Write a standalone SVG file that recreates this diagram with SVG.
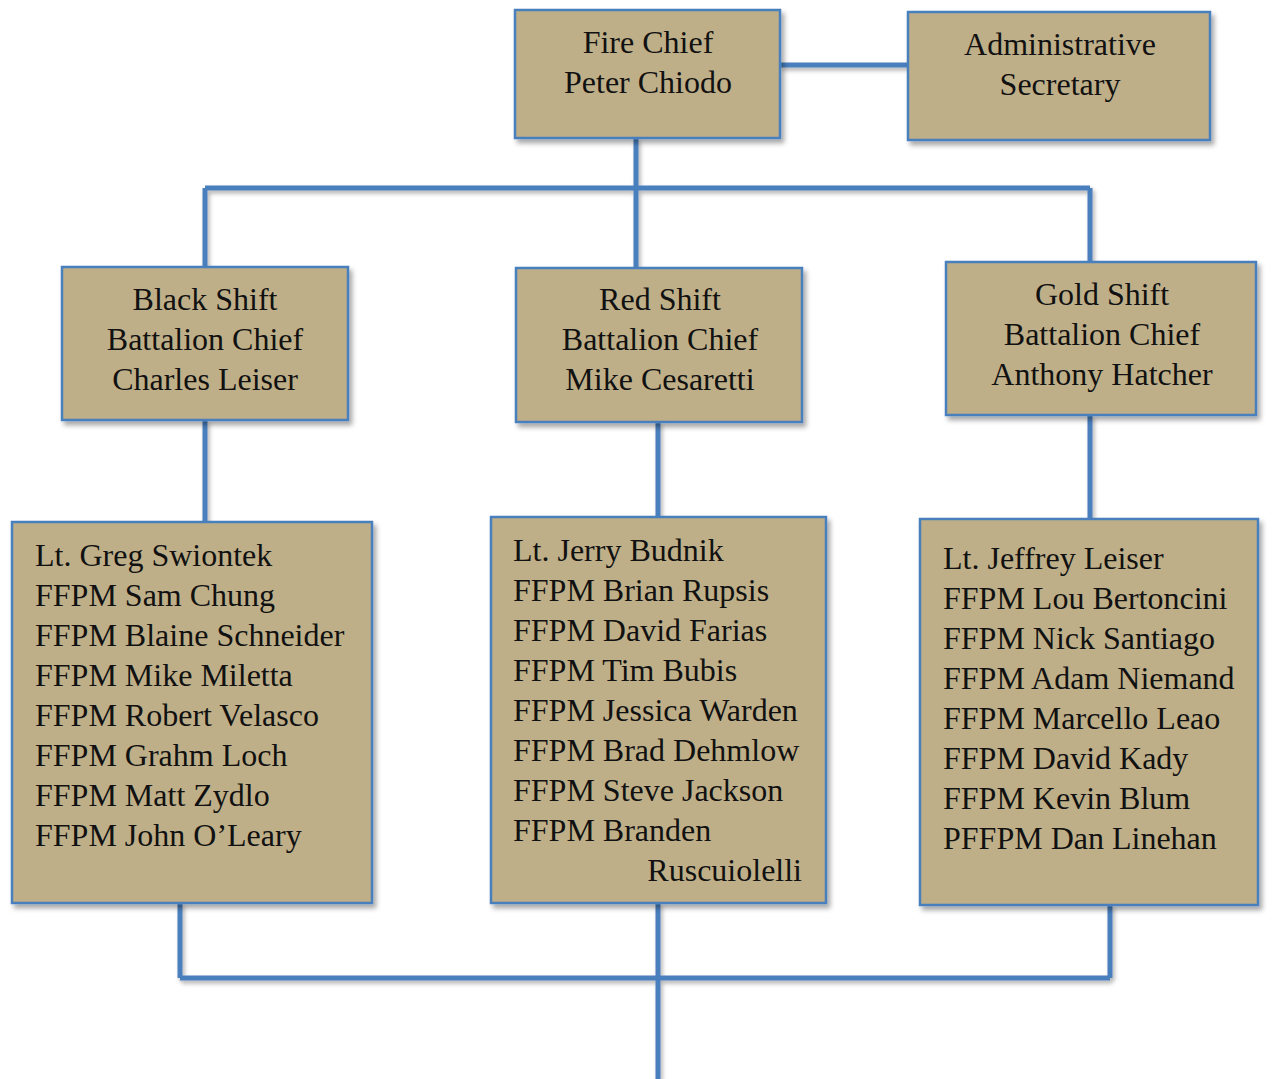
<svg xmlns="http://www.w3.org/2000/svg" width="1281" height="1079" viewBox="0 0 1281 1079">
<defs>
<filter id="sh" x="-10%" y="-10%" width="130%" height="130%">
<feDropShadow dx="3" dy="4" stdDeviation="2.5" flood-color="#000" flood-opacity="0.35"/>
</filter>
<filter id="shl" filterUnits="userSpaceOnUse" x="0" y="0" width="1281" height="1079">
<feDropShadow dx="2" dy="3" stdDeviation="2" flood-color="#000" flood-opacity="0.3"/>
</filter>
</defs>
<style>
.box{fill:#bfaf88;stroke:#4a7fbd;stroke-width:2.5;filter:url(#sh)}
.ln{stroke:#4a7fbd;stroke-width:5;fill:none;filter:url(#shl)}
text{font-family:"Liberation Serif","Times New Roman",serif;font-size:32px;fill:#111}
.c{text-anchor:middle}
</style>
<rect width="1281" height="1079" fill="#fff"/>
<g id="connectors">
<path class="ln" d="M780 65H908"/>
<path class="ln" d="M636 138V268M205 188H1090M205 188V267M1090 188V262"/>
<path class="ln" d="M205 420V522M658 422V517M1090 415V519"/>
<path class="ln" d="M180 903V978M1110 905V978M180 978H1110M658 903V1079"/>
</g>
<g id="fire-chief">
<rect class="box" x="515" y="10" width="265" height="128"/>
<text class="c" x="648" y="53">Fire Chief</text>
<text class="c" x="648" y="93">Peter Chiodo</text>
</g>
<g id="admin-secretary">
<rect class="box" x="908" y="12" width="302" height="128"/>
<text class="c" x="1060" y="55">Administrative</text>
<text class="c" x="1060" y="95">Secretary</text>
</g>
<g id="black-shift">
<rect class="box" x="62" y="267" width="286" height="153"/>
<text class="c" x="205" y="310">Black Shift</text>
<text class="c" x="205" y="350">Battalion Chief</text>
<text class="c" x="205" y="390">Charles Leiser</text>
</g>
<g id="red-shift">
<rect class="box" x="516" y="268" width="286" height="154"/>
<text class="c" x="660" y="310">Red Shift</text>
<text class="c" x="660" y="350">Battalion Chief</text>
<text class="c" x="660" y="390">Mike Cesaretti</text>
</g>
<g id="gold-shift">
<rect class="box" x="946" y="262" width="310" height="153"/>
<text class="c" x="1102" y="305">Gold Shift</text>
<text class="c" x="1102" y="345">Battalion Chief</text>
<text class="c" x="1102" y="385">Anthony Hatcher</text>
</g>
<g id="black-crew">
<rect class="box" x="12" y="522" width="360" height="381"/>
<text x="35" y="566">Lt. Greg Swiontek</text>
<text x="35" y="606">FFPM Sam Chung</text>
<text x="35" y="646">FFPM Blaine Schneider</text>
<text x="35" y="686">FFPM Mike Miletta</text>
<text x="35" y="726">FFPM Robert Velasco</text>
<text x="35" y="766">FFPM Grahm Loch</text>
<text x="35" y="806">FFPM Matt Zydlo</text>
<text x="35" y="846">FFPM John O’Leary</text>
</g>
<g id="red-crew">
<rect class="box" x="491" y="517" width="335" height="386"/>
<text x="513" y="561">Lt. Jerry Budnik</text>
<text x="513" y="601">FFPM Brian Rupsis</text>
<text x="513" y="641">FFPM David Farias</text>
<text x="513" y="681">FFPM Tim Bubis</text>
<text x="513" y="721">FFPM Jessica Warden</text>
<text x="513" y="761">FFPM Brad Dehmlow</text>
<text x="513" y="801">FFPM Steve Jackson</text>
<text x="513" y="841">FFPM Branden</text>
<text x="802" y="881" text-anchor="end">Ruscuiolelli</text>
</g>
<g id="gold-crew">
<rect class="box" x="920" y="519" width="338" height="386"/>
<text x="943" y="569">Lt. Jeffrey Leiser</text>
<text x="943" y="609">FFPM Lou Bertoncini</text>
<text x="943" y="649">FFPM Nick Santiago</text>
<text x="943" y="689">FFPM Adam Niemand</text>
<text x="943" y="729">FFPM Marcello Leao</text>
<text x="943" y="769">FFPM David Kady</text>
<text x="943" y="809">FFPM Kevin Blum</text>
<text x="943" y="849">PFFPM Dan Linehan</text>
</g>
</svg>
